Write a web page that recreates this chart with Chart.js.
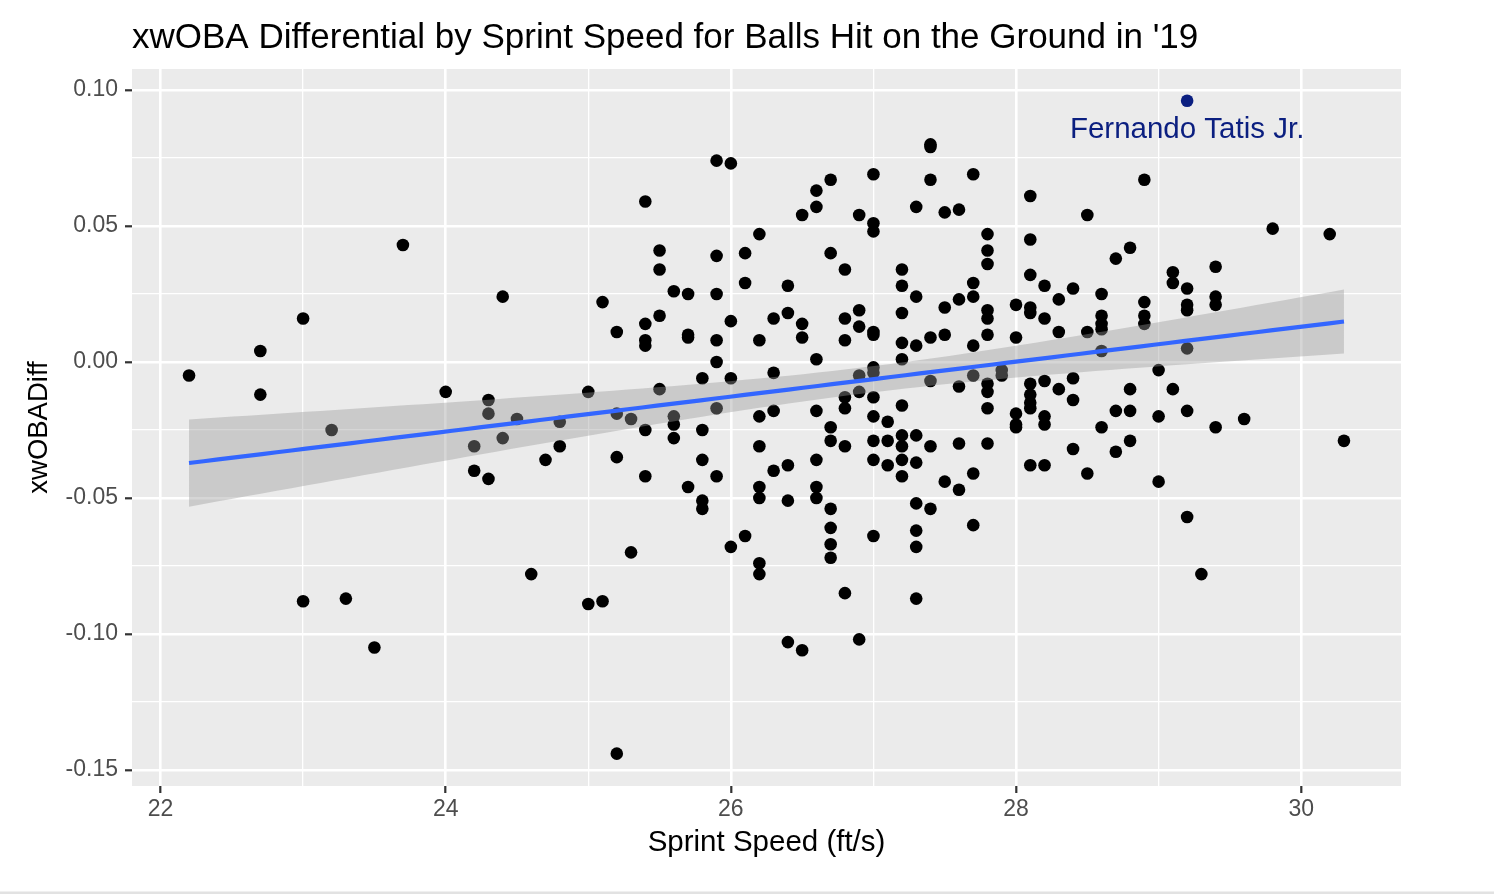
<!DOCTYPE html>
<html>
<head>
<title>xwOBA Differential by Sprint Speed</title>
<style>
  body { margin: 0; background: #ffffff; }
  #wrap { width: 1494px; height: 896px; position: relative; }
</style>
</head>
<body>
<div id="wrap"><canvas id="chartXwoba"></canvas></div>
<script src="https://cdn.jsdelivr.net/npm/chart.js@4.4.1/dist/chart.umd.min.js"></script>
<script>
// sprint speed (ft/s) per player (0.1 ft/s steps)
const sprintSpeed = [
  22.2, 22.7, 22.7, 23.0, 23.0, 23.2, 23.3, 23.5, 23.7, 24.0,
  24.2, 24.2, 24.3, 24.3, 24.3, 24.4, 24.4, 24.5, 24.6, 24.7, 24.8, 24.8,
  25.0, 25.0, 25.1, 25.1, 25.2, 25.2, 25.2, 25.2, 25.3, 25.3,
  25.4, 25.4, 25.4, 25.4, 25.4, 25.4, 25.5, 25.5, 25.5, 25.5,
  25.6, 25.6, 25.6, 25.6, 25.7, 25.7, 25.7, 25.7,
  25.8, 25.8, 25.8, 25.8, 25.8, 25.9, 25.9, 25.9, 25.9, 25.9, 25.9, 25.9,
  26.0, 26.0, 26.0, 26.0, 26.1, 26.1, 26.1,
  26.2, 26.2, 26.2, 26.2, 26.2, 26.2, 26.2, 26.2,
  26.3, 26.3, 26.3, 26.3, 26.4, 26.4, 26.4, 26.4, 26.4,
  26.5, 26.5, 26.5, 26.5, 26.6, 26.6, 26.6, 26.6, 26.6, 26.6, 26.6,
  26.7, 26.7, 26.7, 26.7, 26.7, 26.7, 26.7, 26.7,
  26.8, 26.8, 26.8, 26.8, 26.8, 26.8, 26.8,
  26.9, 26.9, 26.9, 26.9, 26.9, 26.9,
  27.0, 27.0, 27.0, 27.0, 27.0, 27.0, 27.0, 27.0, 27.0, 27.0, 27.0, 27.0,
  27.1, 27.1, 27.1,
  27.2, 27.2, 27.2, 27.2, 27.2, 27.2, 27.2, 27.2, 27.2, 27.2,
  27.3, 27.3, 27.3, 27.3, 27.3, 27.3, 27.3, 27.3, 27.3,
  27.4, 27.4, 27.4, 27.4, 27.4, 27.4, 27.4,
  27.5, 27.5, 27.5, 27.5, 27.6, 27.6, 27.6, 27.6, 27.6,
  27.7, 27.7, 27.7, 27.7, 27.7, 27.7, 27.7,
  27.8, 27.8, 27.8, 27.8, 27.8, 27.8, 27.8, 27.8, 27.8, 27.8,
  27.9, 27.9, 28.0, 28.0, 28.0, 28.0, 28.0,
  28.1, 28.1, 28.1, 28.1, 28.1, 28.1, 28.1, 28.1, 28.1, 28.1,
  28.2, 28.2, 28.2, 28.2, 28.2, 28.2, 28.3, 28.3, 28.3,
  28.4, 28.4, 28.4, 28.4, 28.5, 28.5, 28.5,
  28.6, 28.6, 28.6, 28.6, 28.6, 28.6, 28.7, 28.7, 28.7,
  28.8, 28.8, 28.8, 28.8, 28.9, 28.9, 28.9, 28.9,
  29.0, 29.0, 29.0, 29.1, 29.1, 29.1,
  29.2, 29.2, 29.2, 29.2, 29.2, 29.2, 29.3,
  29.4, 29.4, 29.4, 29.4, 29.6, 29.8, 30.2, 30.3
];
// xwOBA differential, same order as sprintSpeed
const xwobaDiff = [
  -0.005, 0.004, -0.012, 0.016, -0.088, -0.025, -0.087, -0.105, 0.043, -0.011,
  -0.031, -0.040, -0.014, -0.019, -0.043, 0.024, -0.028, -0.021, -0.078, -0.036, -0.022, -0.031,
  -0.011, -0.089, 0.022, -0.088, 0.011, -0.019, -0.035, -0.144, -0.021, -0.070,
  0.059, 0.014, 0.008, 0.006, -0.025, -0.042, 0.041, 0.034, 0.017, -0.010,
  0.026, -0.020, -0.023, -0.028, 0.025, 0.010, 0.009, -0.046,
  -0.006, -0.025, -0.036, -0.051, -0.054, 0.074, 0.039, 0.025, 0.008, 0.000, -0.017, -0.042,
  0.073, 0.015, -0.006, -0.068, 0.040, 0.029, -0.064,
  0.047, 0.008, -0.020, -0.031, -0.046, -0.050, -0.074, -0.078,
  0.016, -0.004, -0.018, -0.040, 0.028, 0.018, -0.038, -0.051, -0.103,
  0.054, 0.014, 0.009, -0.106, 0.063, 0.057, 0.001, -0.018, -0.036, -0.046, -0.050,
  0.067, 0.040, -0.024, -0.029, -0.054, -0.061, -0.067, -0.072,
  0.034, 0.016, 0.008, -0.013, -0.017, -0.031, -0.085,
  0.054, 0.019, 0.013, -0.005, -0.011, -0.102,
  0.069, 0.051, 0.048, 0.011, 0.010, -0.002, -0.004, -0.013, -0.020, -0.029, -0.036, -0.064,
  -0.022, -0.029, -0.038,
  0.034, 0.028, 0.018, 0.007, 0.001, -0.016, -0.027, -0.031, -0.036, -0.042,
  0.057, 0.024, 0.006, -0.027, -0.037, -0.052, -0.062, -0.068, -0.087,
  0.080, 0.079, 0.067, 0.009, -0.007, -0.031, -0.054,
  0.055, 0.020, 0.010, -0.044, 0.056, 0.023, -0.009, -0.030, -0.047,
  0.069, 0.029, 0.024, 0.006, -0.005, -0.041, -0.060,
  0.047, 0.041, 0.036, 0.019, 0.016, 0.010, -0.008, -0.011, -0.017, -0.030,
  -0.003, -0.005, 0.021, 0.009, -0.019, -0.023, -0.024,
  0.061, 0.045, 0.032, 0.020, 0.018, -0.008, -0.012, -0.015, -0.017, -0.038,
  0.028, 0.016, -0.007, -0.020, -0.023, -0.038, 0.023, 0.011, -0.010,
  0.027, -0.006, -0.014, -0.032, 0.054, 0.011, -0.041,
  0.025, 0.017, 0.014, 0.012, 0.004, -0.024, 0.038, -0.018, -0.033,
  0.042, -0.010, -0.018, -0.029, 0.067, 0.022, 0.017, 0.014,
  -0.003, -0.020, -0.044, 0.033, 0.029, -0.010,
  0.027, 0.021, 0.019, 0.005, -0.018, -0.057, -0.078,
  0.035, 0.024, 0.021, -0.024, -0.021, 0.049, 0.047, -0.029
];
// highlighted player
const highlightName = ['Fernando Tatis Jr.'];
const highlightSpeed = [29.2];
const highlightDiff = [0.096];

// axis breaks (majors labelled, minors only gridlines)
const xBreaks = [22, 23, 24, 25, 26, 27, 28, 29, 30];
const yBreaks = [-0.15, -0.125, -0.1, -0.075, -0.05, -0.025, 0, 0.025, 0.05, 0.075, 0.1];

const FONT = "'Liberation Sans', Arial, Helvetica, sans-serif";
Chart.defaults.font.family = FONT;

// lm smooth with 95% band, like geom_smooth(method = "lm")
function lmBand(xs, ys, steps) {
  const n = xs.length;
  let mx = 0, my = 0;
  for (let i = 0; i < n; i++) { mx += xs[i]; my += ys[i]; }
  mx /= n; my /= n;
  let sxx = 0, sxy = 0;
  for (let i = 0; i < n; i++) { sxx += (xs[i] - mx) ** 2; sxy += (xs[i] - mx) * (ys[i] - my); }
  const b = sxy / sxx, a = my - b * mx;
  let sse = 0;
  for (let i = 0; i < n; i++) sse += (ys[i] - a - b * xs[i]) ** 2;
  const s = Math.sqrt(sse / (n - 2));
  const t = 1.969;
  const lo = Math.min(...xs), hi = Math.max(...xs);
  const fit = [], upper = [], lower = [];
  for (let k = 0; k < steps; k++) {
    const x = lo + (hi - lo) * k / (steps - 1);
    const yh = a + b * x;
    const se = s * Math.sqrt(1 / n + (x - mx) ** 2 / sxx);
    fit.push({x: x, y: yh});
    upper.push({x: x, y: yh + t * se});
    lower.push({x: x, y: yh - t * se});
  }
  return {fit, upper, lower};
}

const allSpeed = sprintSpeed.concat(highlightSpeed);
const allDiff = xwobaDiff.concat(highlightDiff);
const smooth = lmBand(allSpeed, allDiff, 80);

const isMajorX = v => Math.abs(v % 2) < 1e-9;
const isMajorY = v => Math.abs(Math.round(v / 0.05) * 0.05 - v) < 1e-9;

const panelBackground = {
  id: 'panelBackground',
  beforeDraw(chart) {
    const {ctx, chartArea: a} = chart;
    ctx.save();
    ctx.fillStyle = '#EBEBEB';
    ctx.fillRect(a.left, a.top, a.right - a.left, a.bottom - a.top);
    ctx.restore();
  },
  afterDraw(chart) {
    const ctx = chart.ctx;
    ctx.save();
    ctx.fillStyle = '#E2E2E2';
    ctx.fillRect(0, 891.5, chart.width, 2.5);
    ctx.restore();
  }
};

const playerLabel = {
  id: 'playerLabel',
  afterDatasetsDraw(chart) {
    const {ctx, scales} = chart;
    ctx.save();
    ctx.fillStyle = '#0B1F80';
    ctx.font = '29.5px ' + FONT;
    ctx.textAlign = 'center';
    ctx.textBaseline = 'middle';
    for (let i = 0; i < highlightName.length; i++) {
      const px = scales.x.getPixelForValue(highlightSpeed[i]);
      const py = scales.y.getPixelForValue(highlightDiff[i] - 0.0105);
      ctx.fillText(highlightName[i], px, py);
    }
    ctx.restore();
  }
};

const gridOpts = isMajor => ({
  color: '#FFFFFF',
  lineWidth: c => (c.tick && isMajor(c.tick.value)) ? 2.6 : 1.3,
  tickColor: c => (c.tick && isMajor(c.tick.value)) ? '#333333' : 'rgba(0,0,0,0)',
  tickWidth: 2.2,
  tickLength: 7
});

new Chart(document.getElementById('chartXwoba'), {
  type: 'scatter',
  data: {
    datasets: [
      {
        label: 'players',
        data: sprintSpeed.map((s, i) => ({x: s, y: xwobaDiff[i]})),
        backgroundColor: '#000000',
        pointRadius: 6.3,
        pointBorderWidth: 0,
        order: 4
      },
      {
        label: 'highlight',
        data: highlightSpeed.map((s, i) => ({x: s, y: highlightDiff[i]})),
        backgroundColor: '#0B1F80',
        pointRadius: 6.3,
        pointBorderWidth: 0,
        order: 3
      },
      {
        type: 'line',
        label: 'upper',
        data: smooth.upper,
        borderWidth: 0,
        borderColor: 'rgba(0,0,0,0)',
        pointRadius: 0,
        fill: '+1',
        backgroundColor: 'rgba(153,153,153,0.4)',
        order: 2
      },
      {
        type: 'line',
        label: 'lower',
        data: smooth.lower,
        borderWidth: 0,
        borderColor: 'rgba(0,0,0,0)',
        pointRadius: 0,
        fill: false,
        order: 2
      },
      {
        type: 'line',
        label: 'fit',
        data: smooth.fit,
        borderColor: '#3366FF',
        borderWidth: 4.2,
        pointRadius: 0,
        fill: false,
        order: 1
      }
    ]
  },
  options: {
    responsive: true,
    maintainAspectRatio: false,
    animation: false,
    events: [],
    layout: { padding: {left: 0, right: 93, top: 0, bottom: 0} },
    plugins: {
      legend: { display: false },
      tooltip: { enabled: false },
      title: {
        display: true,
        text: "xwOBA Differential by Sprint Speed for Balls Hit on the Ground in '19",
        align: 'start',
        fullSize: false,
        color: '#000000',
        font: { size: 35, weight: 'normal' },
        padding: { top: 17, bottom: 10 }
      }
    },
    scales: {
      x: {
        type: 'linear',
        min: 21.8,
        max: 30.7,
        afterBuildTicks: s => { s.ticks = xBreaks.map(v => ({value: v})); },
        afterFit: s => { s.height = 110; },
        border: { display: false },
        grid: gridOpts(isMajorX),
        ticks: {
          autoSkip: false,
          maxRotation: 0,
          padding: 3,
          color: '#4D4D4D',
          font: { size: 23 },
          callback: v => isMajorX(v) ? String(v) : ''
        },
        title: {
          display: true,
          text: 'Sprint Speed (ft/s)',
          color: '#000000',
          font: { size: 29.5 },
          padding: { top: 0, bottom: 35 }
        }
      },
      y: {
        type: 'linear',
        min: -0.1559,
        max: 0.1077,
        afterBuildTicks: s => { s.ticks = yBreaks.map(v => ({value: v})); },
        afterFit: s => { s.width = 132; },
        border: { display: false },
        grid: gridOpts(isMajorY),
        ticks: {
          autoSkip: false,
          padding: 7,
          color: '#4D4D4D',
          font: { size: 23 },
          callback: v => isMajorY(v) ? v.toFixed(2) : ''
        },
        title: {
          display: true,
          text: 'xwOBADiff',
          color: '#000000',
          font: { size: 27.5 },
          padding: { top: 23, bottom: 0 }
        }
      }
    }
  },
  plugins: [panelBackground, playerLabel]
});
</script>
</body>
</html>
